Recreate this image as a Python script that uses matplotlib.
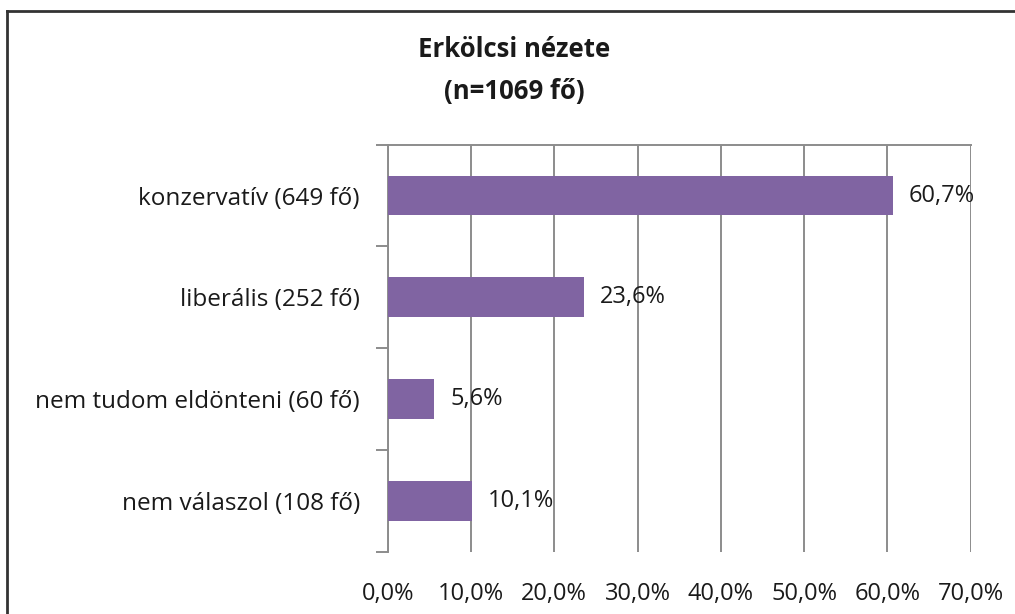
import matplotlib
matplotlib.use("Agg")
import matplotlib.pyplot as plt
from matplotlib.lines import Line2D

plt.rcParams['font.family'] = ['Open Sans', 'DejaVu Sans']

# data
categories = ['konzervatív (649 fő)', 'liberális (252 fő)',
              'nem tudom eldönteni (60 fő)', 'nem válaszol (108 fő)']
values = [60.7, 23.6, 5.6, 10.1]
xticks = [0, 10, 20, 30, 40, 50, 60, 70]

fig = plt.figure(figsize=(10.15, 6.14), dpi=100)
ax = fig.add_axes([0.382, 0.1015, 0.5744, 0.6628])

ypos = list(range(len(categories)))
ax.barh(ypos, values, height=0.39, color='#8064A2', zorder=3)

for y, v in zip(ypos, values):
    ax.text(v + 1.9, y, f'{v:.1f}%'.replace('.', ','), va='center', ha='left',
            fontsize=17, color='#1a1a1a', zorder=4)

ax.set_xlim(0, 70)
ax.set_ylim(3.5, -0.5)
ax.set_xticks(xticks)
ax.set_xticklabels([f'{t:.1f}%'.replace('.', ',') for t in xticks], fontsize=17, color='#1a1a1a')
ax.tick_params(axis='x', length=0, pad=22)
ax.xaxis.grid(True, color='#8c8c8c', linewidth=1.4, zorder=0)

ax.set_yticks(ypos)
ax.set_yticklabels(categories, fontsize=17.5, color='#1a1a1a')
ax.tick_params(axis='y', which='major', length=0, pad=20)
ax.set_yticks([-0.5, 0.5, 1.5, 2.5, 3.5], minor=True)
ax.tick_params(axis='y', which='minor', length=9, width=1.4, color='#8c8c8c')

for side in ['right', 'bottom']:
    ax.spines[side].set_visible(False)
for side in ['left', 'top']:
    ax.spines[side].set_color('#8c8c8c')
    ax.spines[side].set_linewidth(1.4)

fig.text(0.507, 0.885, 'Erkölcsi nézete\n(n=1069 fő)', ha='center', va='center',
         fontsize=18.5, fontweight='bold', linespacing=1.75, color='#1a1a1a')

# outer frame
fig.add_artist(Line2D([7 / 1015, 1], [1 - 11 / 614, 1 - 11 / 614], color='#333333', linewidth=2))
fig.add_artist(Line2D([7 / 1015, 7 / 1015], [0, 1 - 11 / 614], color='#333333', linewidth=2))

fig.savefig('out.png', dpi=100)
